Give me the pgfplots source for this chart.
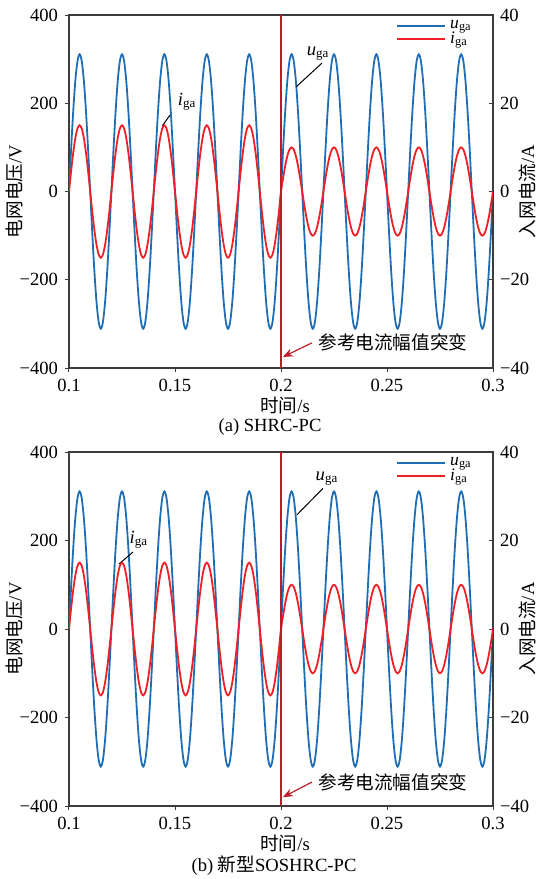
\documentclass[border=0pt]{standalone}
\usepackage{pgfplots}
\pgfplotsset{compat=1.18}
\usepackage{pgfplotstable}
\usepackage{fontspec}
\setmainfont{Liberation Serif}
\newfontfamily\cjk{Noto Sans CJK SC}
\usetikzlibrary{arrows.meta}
\definecolor{ublue}{RGB}{31,110,181}
\definecolor{ired}{RGB}{238,32,38}
\definecolor{vred}{RGB}{185,30,40}
\definecolor{axgray}{RGB}{60,60,60}
\newcommand{\fs}{\fontsize{9.3}{11}\selectfont}

\pgfplotstableread{
t u i
0.100 0 0
0.101 96.1 4.64
0.102 182.8 8.82
0.103 251.6 12.14
0.104 295.8 14.27
0.105 311 15
0.106 295.8 14.27
0.107 251.6 12.14
0.108 182.8 8.82
0.109 96.1 4.64
0.110 0 0
0.111 -96.1 -4.64
0.112 -182.8 -8.82
0.113 -251.6 -12.14
0.114 -295.8 -14.27
0.115 -311 -15
0.116 -295.8 -14.27
0.117 -251.6 -12.14
0.118 -182.8 -8.82
0.119 -96.1 -4.64
0.120 0 0
0.121 96.1 4.64
0.122 182.8 8.82
0.123 251.6 12.14
0.124 295.8 14.27
0.125 311 15
0.126 295.8 14.27
0.127 251.6 12.14
0.128 182.8 8.82
0.129 96.1 4.64
0.130 0 0
0.131 -96.1 -4.64
0.132 -182.8 -8.82
0.133 -251.6 -12.14
0.134 -295.8 -14.27
0.135 -311 -15
0.136 -295.8 -14.27
0.137 -251.6 -12.14
0.138 -182.8 -8.82
0.139 -96.1 -4.64
0.140 0 0
0.141 96.1 4.64
0.142 182.8 8.82
0.143 251.6 12.14
0.144 295.8 14.27
0.145 311 15
0.146 295.8 14.27
0.147 251.6 12.14
0.148 182.8 8.82
0.149 96.1 4.64
0.150 0 0
0.151 -96.1 -4.64
0.152 -182.8 -8.82
0.153 -251.6 -12.14
0.154 -295.8 -14.27
0.155 -311 -15
0.156 -295.8 -14.27
0.157 -251.6 -12.14
0.158 -182.8 -8.82
0.159 -96.1 -4.64
0.160 0 0
0.161 96.1 4.64
0.162 182.8 8.82
0.163 251.6 12.14
0.164 295.8 14.27
0.165 311 15
0.166 295.8 14.27
0.167 251.6 12.14
0.168 182.8 8.82
0.169 96.1 4.64
0.170 0 0
0.171 -96.1 -4.64
0.172 -182.8 -8.82
0.173 -251.6 -12.14
0.174 -295.8 -14.27
0.175 -311 -15
0.176 -295.8 -14.27
0.177 -251.6 -12.14
0.178 -182.8 -8.82
0.179 -96.1 -4.64
0.180 0 0
0.181 96.1 4.64
0.182 182.8 8.82
0.183 251.6 12.14
0.184 295.8 14.27
0.185 311 15
0.186 295.8 14.27
0.187 251.6 12.14
0.188 182.8 8.82
0.189 96.1 4.64
0.190 0 0
0.191 -96.1 -4.64
0.192 -182.8 -8.82
0.193 -251.6 -12.14
0.194 -295.8 -14.27
0.195 -311 -15
0.196 -295.8 -14.27
0.197 -251.6 -12.14
0.198 -182.8 -8.82
0.199 -96.1 -4.64
0.200 0 0
0.201 96.1 3.09
0.202 182.8 5.88
0.203 251.6 8.09
0.204 295.8 9.51
0.205 311 10
0.206 295.8 9.51
0.207 251.6 8.09
0.208 182.8 5.88
0.209 96.1 3.09
0.210 0 0
0.211 -96.1 -3.09
0.212 -182.8 -5.88
0.213 -251.6 -8.09
0.214 -295.8 -9.51
0.215 -311 -10
0.216 -295.8 -9.51
0.217 -251.6 -8.09
0.218 -182.8 -5.88
0.219 -96.1 -3.09
0.220 0 0
0.221 96.1 3.09
0.222 182.8 5.88
0.223 251.6 8.09
0.224 295.8 9.51
0.225 311 10
0.226 295.8 9.51
0.227 251.6 8.09
0.228 182.8 5.88
0.229 96.1 3.09
0.230 0 0
0.231 -96.1 -3.09
0.232 -182.8 -5.88
0.233 -251.6 -8.09
0.234 -295.8 -9.51
0.235 -311 -10
0.236 -295.8 -9.51
0.237 -251.6 -8.09
0.238 -182.8 -5.88
0.239 -96.1 -3.09
0.240 0 0
0.241 96.1 3.09
0.242 182.8 5.88
0.243 251.6 8.09
0.244 295.8 9.51
0.245 311 10
0.246 295.8 9.51
0.247 251.6 8.09
0.248 182.8 5.88
0.249 96.1 3.09
0.250 0 0
0.251 -96.1 -3.09
0.252 -182.8 -5.88
0.253 -251.6 -8.09
0.254 -295.8 -9.51
0.255 -311 -10
0.256 -295.8 -9.51
0.257 -251.6 -8.09
0.258 -182.8 -5.88
0.259 -96.1 -3.09
0.260 0 0
0.261 96.1 3.09
0.262 182.8 5.88
0.263 251.6 8.09
0.264 295.8 9.51
0.265 311 10
0.266 295.8 9.51
0.267 251.6 8.09
0.268 182.8 5.88
0.269 96.1 3.09
0.270 0 0
0.271 -96.1 -3.09
0.272 -182.8 -5.88
0.273 -251.6 -8.09
0.274 -295.8 -9.51
0.275 -311 -10
0.276 -295.8 -9.51
0.277 -251.6 -8.09
0.278 -182.8 -5.88
0.279 -96.1 -3.09
0.280 0 0
0.281 96.1 3.09
0.282 182.8 5.88
0.283 251.6 8.09
0.284 295.8 9.51
0.285 311 10
0.286 295.8 9.51
0.287 251.6 8.09
0.288 182.8 5.88
0.289 96.1 3.09
0.290 0 0
0.291 -96.1 -3.09
0.292 -182.8 -5.88
0.293 -251.6 -8.09
0.294 -295.8 -9.51
0.295 -311 -10
0.296 -295.8 -9.51
0.297 -251.6 -8.09
0.298 -182.8 -5.88
0.299 -96.1 -3.09
0.300 0 0
}\wave

\pgfplotsset{
  base/.style={scale only axis, width=212pt, xmin=0.1, xmax=0.3, anchor=south west,
    axis line style={axgray, line width=0.6pt}, major tick length=2pt,
    tick style={axgray, line width=0.5pt},
    tick label style={font=\fs}},
  leftax/.style={base, ymin=-400, ymax=400, ytick={-400,-200,0,200,400},
    yticklabels={−400,−200,0,200,400},
    xtick={0.1,0.15,0.2,0.25,0.3}, xticklabels={0.1,0.15,0.2,0.25,0.3},
    xtick pos=bottom, ytick pos=left, tick align=outside},
  rightax/.style={base, ymin=-40, ymax=40, ytick={-40,-20,0,20,40},
    yticklabels={−40,−20,0,20,40}, axis y line*=right, axis x line=none,
    tick align=inside, legend cell align=left,
    legend style={at={(rel axis cs:0.96,0.997)}, anchor=north east, draw=none, fill=none,
      font=\fontsize{8.8}{9}\selectfont, inner sep=0pt, row sep=-4pt}},
  ucurve/.style={ublue, line width=0.9pt, smooth},
  icurve/.style={ired, line width=0.9pt, smooth},
}

\begin{document}
\begin{tikzpicture}[font=\fs]
\path[use as bounding box] (0,0) rectangle (274pt,-439.5pt);

% ---------- panel (a) ----------
\begin{axis}[leftax, height=176.5pt, at={(34.5pt,-184pt)}]
\addplot[ucurve] table[x=t,y=u]{\wave};
\draw[black, line width=0.5pt] (axis cs:0.2193,291) -- (axis cs:0.2071,237);
\node at (axis cs:0.2175,312) {\textit{u}\textsubscript{ga}};
\draw[black, line width=0.5pt] (axis cs:0.1476,173) -- (axis cs:0.1439,148);
\node at (axis cs:0.1557,203) {\textit{i}\textsubscript{ga}};
\draw[vred, line width=0.6pt, -{Stealth[length=5pt,width=4pt]}] (axis cs:0.2146,-343) -- (axis cs:0.2009,-375);
\node[anchor=west, inner sep=0pt] at (axis cs:0.2175,-343) {\cjk 参考电流幅值突变};
\end{axis}
\begin{axis}[rightax, height=176.5pt, at={(34.5pt,-184pt)}]
\addlegendimage{legend image code/.code={\draw[ublue, line width=0.9pt] (0pt,0pt) -- (24pt,0pt);}}
\addlegendentry{\textit{u}\textsubscript{ga}}
\addlegendimage{legend image code/.code={\draw[ired, line width=0.9pt] (0pt,0pt) -- (24pt,0pt);}}
\addlegendentry{\textit{i}\textsubscript{ga}}
\addplot[icurve, forget plot] table[x=t,y=i]{\wave};
\addplot[vred, line width=0.7pt, forget plot] coordinates {(0.2,-40) (0.2,40)};
\end{axis}
\node[rotate=90] at (7.25pt,-95.75pt) {{\cjk 电网电压}/V};
\node[rotate=90] at (263.5pt,-95.75pt) {{\cjk 入网电流}/A};
\node at (142.5pt,-202.5pt) {{\cjk 时间}/s};
\node at (135pt,-213.5pt) {(a) SHRC-PC};

% ---------- panel (b) ----------
\begin{axis}[leftax, height=177pt, at={(34.5pt,-403pt)}]
\addplot[ucurve] table[x=t,y=u]{\wave};
\draw[black, line width=0.5pt] (axis cs:0.2198,318) -- (axis cs:0.2075,258);
\node at (axis cs:0.2217,339) {\textit{u}\textsubscript{ga}};
\draw[black, line width=0.5pt] (axis cs:0.1302,174) -- (axis cs:0.1236,147);
\node at (axis cs:0.1330,201) {\textit{i}\textsubscript{ga}};
\draw[vred, line width=0.6pt, -{Stealth[length=5pt,width=4pt]}] (axis cs:0.2146,-346) -- (axis cs:0.2009,-380);
\node[anchor=west, inner sep=0pt] at (axis cs:0.2175,-346) {\cjk 参考电流幅值突变};
\end{axis}
\begin{axis}[rightax, height=177pt, at={(34.5pt,-403pt)}]
\addlegendimage{legend image code/.code={\draw[ublue, line width=0.9pt] (0pt,0pt) -- (24pt,0pt);}}
\addlegendentry{\textit{u}\textsubscript{ga}}
\addlegendimage{legend image code/.code={\draw[ired, line width=0.9pt] (0pt,0pt) -- (24pt,0pt);}}
\addlegendentry{\textit{i}\textsubscript{ga}}
\addplot[icurve, forget plot] table[x=t,y=i]{\wave};
\addplot[vred, line width=0.7pt, forget plot] coordinates {(0.2,-40) (0.2,40)};
\end{axis}
\node[rotate=90] at (7.25pt,-314.5pt) {{\cjk 电网电压}/V};
\node[rotate=90] at (263.5pt,-314.5pt) {{\cjk 入网电流}/A};
\node at (142.5pt,-421.5pt) {{\cjk 时间}/s};
\node at (137pt,-433pt) {(b) {\cjk 新型}SOSHRC-PC};
\end{tikzpicture}
\end{document}
